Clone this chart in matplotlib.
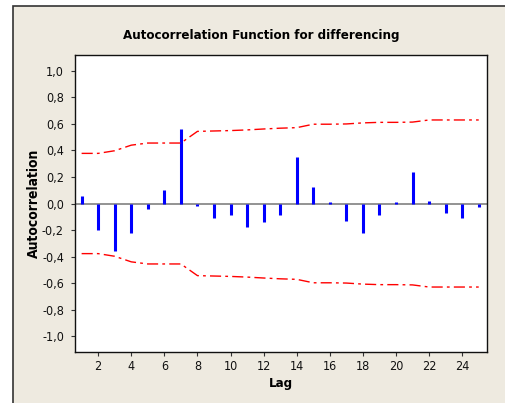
import numpy as np
import matplotlib
matplotlib.use("Agg")
import matplotlib.pyplot as plt
from matplotlib.patches import Rectangle

# ACF values
lags = list(range(1, 26))
acf = [0.06, -0.20, -0.36, -0.22, -0.045, 0.10, 0.56, -0.02, -0.11, -0.085,
       -0.175, -0.14, -0.085, 0.35, 0.125, 0.01, -0.13, -0.22, -0.09, 0.01,
       0.24, 0.02, -0.07, -0.11, -0.03]
# upper 95% limit (lower is the mirror)
limit = [0.378, 0.378, 0.398, 0.44, 0.456, 0.456, 0.456, 0.544, 0.547, 0.55,
         0.555, 0.562, 0.568, 0.572, 0.598, 0.598, 0.60, 0.608, 0.612, 0.612,
         0.614, 0.63, 0.63, 0.63, 0.63]
y_ticks = [-1.0, -0.8, -0.6, -0.4, -0.2, 0.0, 0.2, 0.4, 0.6, 0.8, 1.0]
x_ticks = list(range(2, 26, 2))

fam = ["DejaVu Sans"]

fig = plt.figure(figsize=(5.05, 4.03), dpi=100)
fig.patch.set_facecolor("white")

# beige outer panel
bg = Rectangle((13 / 505, -0.1), 1.2, 1.1 - 6.5 / 403, transform=fig.transFigure,
               facecolor="#eeeae0", edgecolor="#333333", linewidth=1.2, zorder=-5)
fig.patches.append(bg)

ax = fig.add_axes([75 / 505, 1 - 352 / 403, 412 / 505, 297 / 403])
ax.set_zorder(2)
ax.set_facecolor("white")

ax.axhline(0, color="#808080", linewidth=1.2, zorder=1)
ax.vlines(lags, 0, acf, color="#0000ff", linewidth=2.2, zorder=2)
ls = (0, (8, 3, 2, 3))
ax.plot(lags, limit, color="#ff0000", linewidth=1.0, linestyle=ls, zorder=3)
ax.plot(lags, [-v for v in limit], color="#ff0000", linewidth=1.0, linestyle=ls, zorder=3)

ax.set_xlim(0.6, 25.5)
ax.set_ylim(-1.12, 1.12)
ax.set_yticks(y_ticks)
ax.set_yticklabels([f"{v:.1f}".replace(".", ",") for v in y_ticks])
ax.set_xticks(x_ticks)
ax.set_xticklabels([str(v) for v in x_ticks])

for lab in ax.get_xticklabels() + ax.get_yticklabels():
    lab.set_family(fam)
    lab.set_stretch("condensed")
    lab.set_fontsize(9)
    lab.set_color("#111111")

ax.tick_params(direction="out", length=3, width=0.8, color="#333333")
ax.tick_params(axis="y", pad=5)
ax.tick_params(axis="x", pad=3)
for s in ax.spines.values():
    s.set_color("#111111")
    s.set_linewidth(1.0)

fig.text(261 / 505, 1 - 35 / 403, "Autocorrelation Function for differencing",
         ha="center", va="center", fontsize=9.5, fontweight="bold", family=fam,
         fontstretch="condensed")
ax.set_xlabel("Lag", fontsize=9.5, fontweight="bold", family=fam, fontstretch="condensed",
              labelpad=3)
ax.set_ylabel("Autocorrelation", fontsize=10, fontweight="bold", family=fam,
              fontstretch="condensed", labelpad=1)

fig.savefig("out.png", dpi=100)
